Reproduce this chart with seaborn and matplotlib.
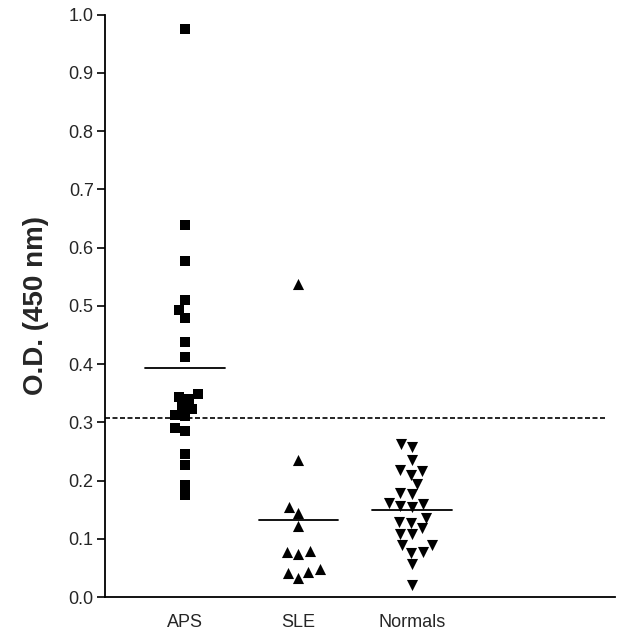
import numpy as np
import pandas as pd
import matplotlib
matplotlib.use("Agg")
import matplotlib.pyplot as plt
import seaborn as sns

groups = ["APS", "SLE", "Normals"]
aps = [0.975, 0.639, 0.577, 0.510, 0.493, 0.479, 0.438, 0.412, 0.349, 0.344,
       0.340, 0.328, 0.323, 0.313, 0.311, 0.290, 0.285, 0.246, 0.227, 0.192, 0.175]
sle = [0.538, 0.235, 0.155, 0.144, 0.122, 0.079, 0.077, 0.074, 0.048, 0.043,
       0.041, 0.033]
normals = [0.263, 0.258, 0.235, 0.218, 0.216, 0.210, 0.194, 0.179, 0.177, 0.162,
           0.160, 0.156, 0.155, 0.136, 0.129, 0.127, 0.118, 0.108, 0.108, 0.089,
           0.089, 0.077, 0.076, 0.057, 0.021]
cutoff = 0.308
yticks = [0.0, 0.1, 0.2, 0.3, 0.4, 0.5, 0.6, 0.7, 0.8, 0.9, 1.0]

values = {"APS": aps, "SLE": sle, "Normals": normals}
markers = {"APS": "s", "SLE": "^", "Normals": "v"}
sizes = {"APS": 7, "SLE": 8, "Normals": 8}

df = pd.DataFrame([(g, v) for g in groups for v in values[g]], columns=["group", "od"])

sns.set_theme(style="ticks")
plt.rcParams["font.family"] = ["Liberation Sans", "DejaVu Sans"]

fig = plt.figure(figsize=(6.24, 6.42), dpi=100)
ax = fig.add_axes([0.168, 0.070, 0.818, 0.907])

for g in groups:
    sub = df[df["group"] == g]
    sns.swarmplot(data=sub, x="group", y="od", order=groups, marker=markers[g],
                  color="black", size=sizes[g], linewidth=0, ax=ax)

for i, g in enumerate(groups):
    m = np.mean(values[g])
    ax.plot([i - 0.35, i + 0.35], [m, m], color="black", lw=1.3)

ax.axhline(cutoff, xmin=0, xmax=0.98, color="black", lw=1.2, ls=(0, (3, 1.5)))

ax.set_xlim(-0.705, 3.79)
ax.set_ylim(0, 1.0)
ax.set_yticks(yticks)
ax.set_yticklabels([f"{t:.1f}" for t in yticks], fontsize=13)
ax.tick_params(axis="x", length=0, labelsize=13, pad=12)
ax.tick_params(axis="y", length=6, width=1.2, direction="out", pad=2, color="black")
ax.set_xlabel("")
ax.set_ylabel("O.D. (450 nm)", fontsize=20, fontweight="bold", labelpad=14)
sns.despine(ax=ax)
for s in ["left", "bottom"]:
    ax.spines[s].set_linewidth(1.3)
    ax.spines[s].set_color("black")

fig.savefig("out.png", dpi=100)
